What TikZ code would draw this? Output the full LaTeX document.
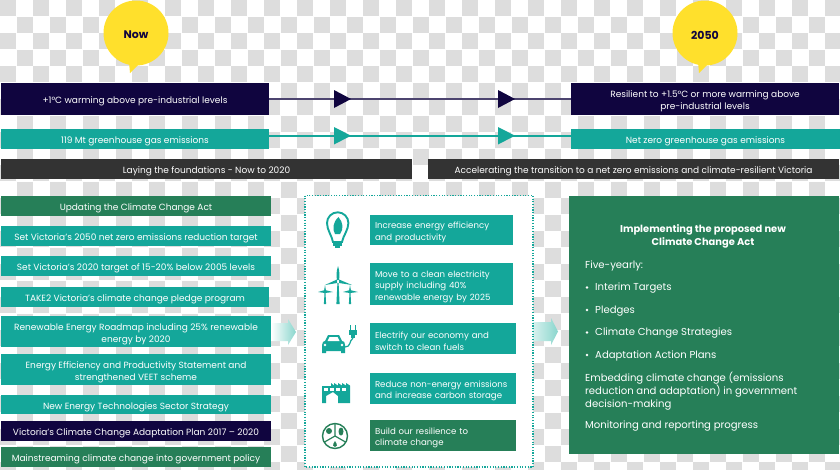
\documentclass[tikz,border=0pt]{standalone}
\usepackage{fontspec}
\setmainfont{Poppins}
\definecolor{navyc}{HTML}{10053F}
\definecolor{tealc}{HTML}{14A79A}
\definecolor{greenc}{HTML}{267F58}
\definecolor{darkc}{HTML}{333333}
\definecolor{yellowc}{HTML}{FFE02C}
\definecolor{checkc}{HTML}{DDDDDD}
\definecolor{arrowc}{HTML}{8AD6CD}
\newcommand{\bfont}{\fontsize{9}{11.7}\selectfont}
\newcommand{\mfont}{\fontsize{8.6}{11.5}\selectfont}
\newcommand{\pbox}[7][]{%
  \pgfmathsetmacro{\bxw}{#5-#3}\pgfmathsetmacro{\bxh}{#6-#4}%
  \node[boxn,#1,minimum width=\bxw pt,minimum height=\bxh pt] (#2) at ({(#3+#5)/2},{(#4+#6)/2}) {};
  \node[boxtext] (#2t) at ([yshift=-2.5pt]#2.center) {#7};}
\newcommand{\lbox}[7][]{%
  \pgfmathsetmacro{\bxw}{#5-#3}\pgfmathsetmacro{\bxh}{#6-#4}\pgfmathsetmacro{\bxt}{#5-#3-10}%
  \node[boxn,#1,minimum width=\bxw pt,minimum height=\bxh pt] (#2) at ({(#3+#5)/2},{(#4+#6)/2}) {};
  \node[boxtext,align=left,font=\mfont,text width=\bxt pt] (#2t) at ([yshift=-2.5pt]#2.center) {#7};}
\tikzset{
  boxn/.style={inner sep=0pt,outer sep=0pt},
  boxtext/.style={inner sep=0pt,outer sep=0pt,text=white,align=center,font=\bfont},
  navybox/.style={fill=navyc},
  tealbox/.style={fill=tealc},
  greenbox/.style={fill=greenc},
  darkbox/.style={fill=darkc},
  bubble/.style={fill=yellowc},
  bubtext/.style={text=navyc,font=\fontsize{11}{12}\selectfont\bfseries,inner sep=0pt},
  paneltext/.style={text=white,font=\fontsize{10.1}{13}\selectfont,anchor=west,inner sep=0pt,align=left},
  link/.style={line width=1.3pt},
  dot/.style={circle,fill=white,minimum size=2.6pt,inner sep=0pt},
}
\begin{document}
\begin{tikzpicture}[x=1pt,y=-1pt]
\useasboundingbox (0,0) rectangle (840,469);
\fill[white] (0,0) rectangle (840,469);
% checkerboard
\foreach \j in {0,...,28}{
  \pgfmathtruncatemacro{\st}{mod(\j,2)}
  \foreach \i in {0,2,...,50}{
    \pgfmathsetmacro{\xa}{(\i+\st)*16.5}
    \pgfmathsetmacro{\ya}{\j*16.5}
    \fill[checkc] (\xa,\ya) rectangle ++(16,16);
  }
}
% bubbles
\fill[bubble] (136,33) circle (32.5);
\fill[bubble] (129,62) -- (130,73) -- (140,63) -- cycle;
\node[bubtext] (now) at (136,35) {Now};
\fill[bubble] (705,33) circle (32.5);
\fill[bubble] (698,62) -- (699,73) -- (709,63) -- cycle;
\node[bubtext] (y2050) at (705,35) {2050};
% top bars
\pbox[navybox]{a1}{1}{83}{269}{115}{+1°C warming above pre-industrial levels}
\pbox[navybox]{a2}{571}{83}{839}{115}{Resilient to +1.5°C or more warming above\\pre-industrial levels}
\pbox[tealbox]{b1}{1}{129}{269}{149}{119 Mt greenhouse gas emissions}
\pbox[tealbox]{b2}{571}{129}{840}{149}{Net zero greenhouse gas emissions}
\pbox[darkbox]{c1}{1}{159}{412}{179}{Laying the foundations - Now to 2020}
\pbox[darkbox]{c2}{428}{159}{839}{179}{Accelerating the transition to a net zero emissions and climate-resilient Victoria}
% timelines
\draw[link,navyc!75!white] (a1) -- (a2);
\draw[link,tealc] ([yshift=3pt]b1.east) -- ([yshift=3pt]b2.west);
\fill[navyc] (334,90) -- (351,99) -- (334,108) -- cycle;
\fill[navyc] (498,90) -- (515,99) -- (498,108) -- cycle;
\fill[tealc] (334,127) -- (351,135.7) -- (334,144.5) -- cycle;
\fill[tealc] (498,127) -- (515,135.7) -- (498,144.5) -- cycle;
% left list
\pbox[greenbox]{l1}{1}{196}{271}{216}{Updating the Climate Change Act}
\pbox[tealbox]{l2}{1}{226}{271}{246}{Set Victoria’s 2050 net zero emissions reduction target}
\pbox[tealbox]{l3}{1}{256}{271}{276}{Set Victoria’s 2020 target of 15-20\% below 2005 levels}
\pbox[tealbox]{l4}{1}{287}{269}{306.5}{TAKE2 Victoria’s climate change pledge program}
\pbox[tealbox]{l5}{1}{316}{271}{347}{Renewable Energy Roadmap including 25\% renewable\\energy by 2020}
\pbox[tealbox]{l6}{1}{354}{271}{385}{Energy Efficiency and Productivity Statement and\\strengthened VEET scheme}
\pbox[tealbox]{l7}{1}{395}{271}{414}{New Energy Technologies Sector Strategy}
\pbox[navybox]{l8}{1}{421}{271}{441}{Victoria’s Climate Change Adaptation Plan 2017 – 2020}
\pbox[greenbox]{l9}{1}{447}{271}{467}{Mainstreaming climate change into government policy}
% block arrows
\shade[left color=white,right color=arrowc] (271,323) -- (288,323) -- (288,319) -- (296,332) -- (288,345) -- (288,341) -- (271,341) -- cycle;
\shade[left color=white,right color=arrowc] (520,322) -- (551,322) -- (551,318) -- (558,331.5) -- (551,345) -- (551,341) -- (520,341) -- cycle;
% centre panel
\fill[white] (305,195.5) rectangle (533,467);
\draw[tealc,line width=1.2pt,dash pattern=on 1.2pt off 1.5pt] (305,195.5) rectangle (533,467);
\lbox[tealbox]{m1}{370}{215}{513}{245}{Increase energy efficiency\\and productivity}
\lbox[tealbox]{m2}{370}{263}{513}{305}{Move to a clean electricity\\supply including 40\%\\renewable energy by 2025}
\lbox[tealbox]{m3}{370}{323}{516}{354}{Electrify our economy and\\switch to clean fuels}
\lbox[tealbox]{m4}{370}{373}{516}{404}{Reduce non-energy emissions\\and increase carbon storage}
\lbox[greenbox]{m5}{370}{420}{516}{451}{Build our resilience to\\climate change}
% bulb icon
\draw[tealc,line width=1.9pt] (333,242) .. controls (332,236) and (327,230) .. (327,223) arc[start angle=180,end angle=360,radius=10.7] .. controls (348.4,230) and (343,236) .. (342,242) -- cycle;
\fill[tealc] (333,241) rectangle (342,246);
\fill[tealc] (335,246) rectangle (340,248);
\fill[tealc] (338.5,217) .. controls (333,222) and (332,229) .. (335,234) -- (340,234) .. controls (344,229) and (343,222) .. (338.5,217) -- cycle;
% turbines icon
\fill[tealc] (336.4,304) -- (337.4,283) -- (338.6,283) -- (339.6,304) -- cycle;
\fill[tealc] (338,266) .. controls (336,272) and (336.5,277) .. (337,280) -- (339,280) .. controls (339.5,277) and (340,272) .. (338,266) -- cycle;
\fill[tealc] (337,279.5) -- (325,285) -- (337,283) -- cycle;
\fill[tealc] (339,279.5) -- (352,285) -- (339,283) -- cycle;
\foreach \tx in {325,350}{
  \fill[tealc] ({\tx-1.1},304) -- ({\tx-.4},291) -- ({\tx+.4},291) -- ({\tx+1.1},304) -- cycle;
  \fill[tealc] ({\tx-7},292) -- ({\tx},290) -- ({\tx+8},292) -- ({\tx},293) -- cycle;
  \fill[tealc] ({\tx-1},291) -- ({\tx},285) -- ({\tx+1},291) -- cycle;
}
\fill[white] (338,281) circle (1);
% car icon
\fill[tealc] (322,353) -- (322,345) .. controls (322,342) and (324,341) .. (325,341) -- (328,335) -- (339,335) -- (342,341) .. controls (344,341) and (345,342) .. (345,345) -- (345,353) -- (341,353) -- (341,351) -- (326,351) -- (326,353) -- cycle;
\fill[white] (329.5,337) -- (337.5,337) -- (339.5,341) -- (327.5,341) -- cycle;
\fill[white] (325,345) circle (1.3);
\fill[white] (342,345) circle (1.3);
\draw[tealc,line width=1.2pt] (345,347) .. controls (351,347) and (349,341) .. (353,338);
\fill[tealc] (349,330) rectangle (357,335);
\fill[tealc] (351,335) rectangle (355,338);
\fill[tealc] (350,325) rectangle (351.4,330);
\fill[tealc] (354.6,325) rectangle (356,330);
% factory icon
\fill[tealc] (322,403) -- (322,386) -- (331,386) -- (331,383) -- (334,385.5) -- (334,383) -- (338,385.5) -- (338,383) -- (342,385.5) -- (342,383) -- (346,385.5) -- (346,383) -- (350,385.5) -- (350,403) -- (338,403) -- (338,396) -- (333,392) -- (326,396) -- (326,403) -- cycle;
\foreach \wx in {324,330,336,342}{\fill[white] (\wx,388) rectangle ++(4,3);}
% resilience icon
\draw[greenc,line width=1.4pt] (335,436) circle (12.5);
\draw[greenc,line width=1.2pt] (335,436) -- (335,423.5) (335,436) -- (324.2,442.2) (335,436) -- (345.8,442.2);
\fill[greenc] (329,431) circle (3);
\fill[greenc] (341,431.5) ellipse (2.5 and 4);
\fill[greenc] (335,441) .. controls (332,445) and (333,447) .. (335,447) .. controls (337,447) and (338,445) .. (335,441) -- cycle;
% right panel
\pbox[greenbox]{rp}{569}{196}{839}{454}{}
\node[paneltext,anchor=center,align=center,font=\fontsize{9.9}{13}\selectfont\bfseries] (rt) at (703,236.5) {Implementing the proposed new\\Climate Change Act};
\node[paneltext] (r1) at (585,266) {Five-yearly:};
\node[dot] (d1) at (587,287.5) {};
\node[paneltext] (r2) at (595,288) {Interim Targets};
\node[dot] (d2) at (587,310) {};
\node[paneltext] (r3) at (595,311) {Pledges};
\node[dot] (d3) at (587,332.5) {};
\node[paneltext] (r4) at (595,333) {Climate Change Strategies};
\node[dot] (d4) at (587,355) {};
\node[paneltext] (r5) at (595,356) {Adaptation Action Plans};
\node[paneltext] (r6) at (585,391) {Embedding climate change (emissions\\reduction and adaptation) in government\\decision-making};
\node[paneltext] (r7) at (585,426) {Monitoring and reporting progress};
\end{tikzpicture}
\end{document}
